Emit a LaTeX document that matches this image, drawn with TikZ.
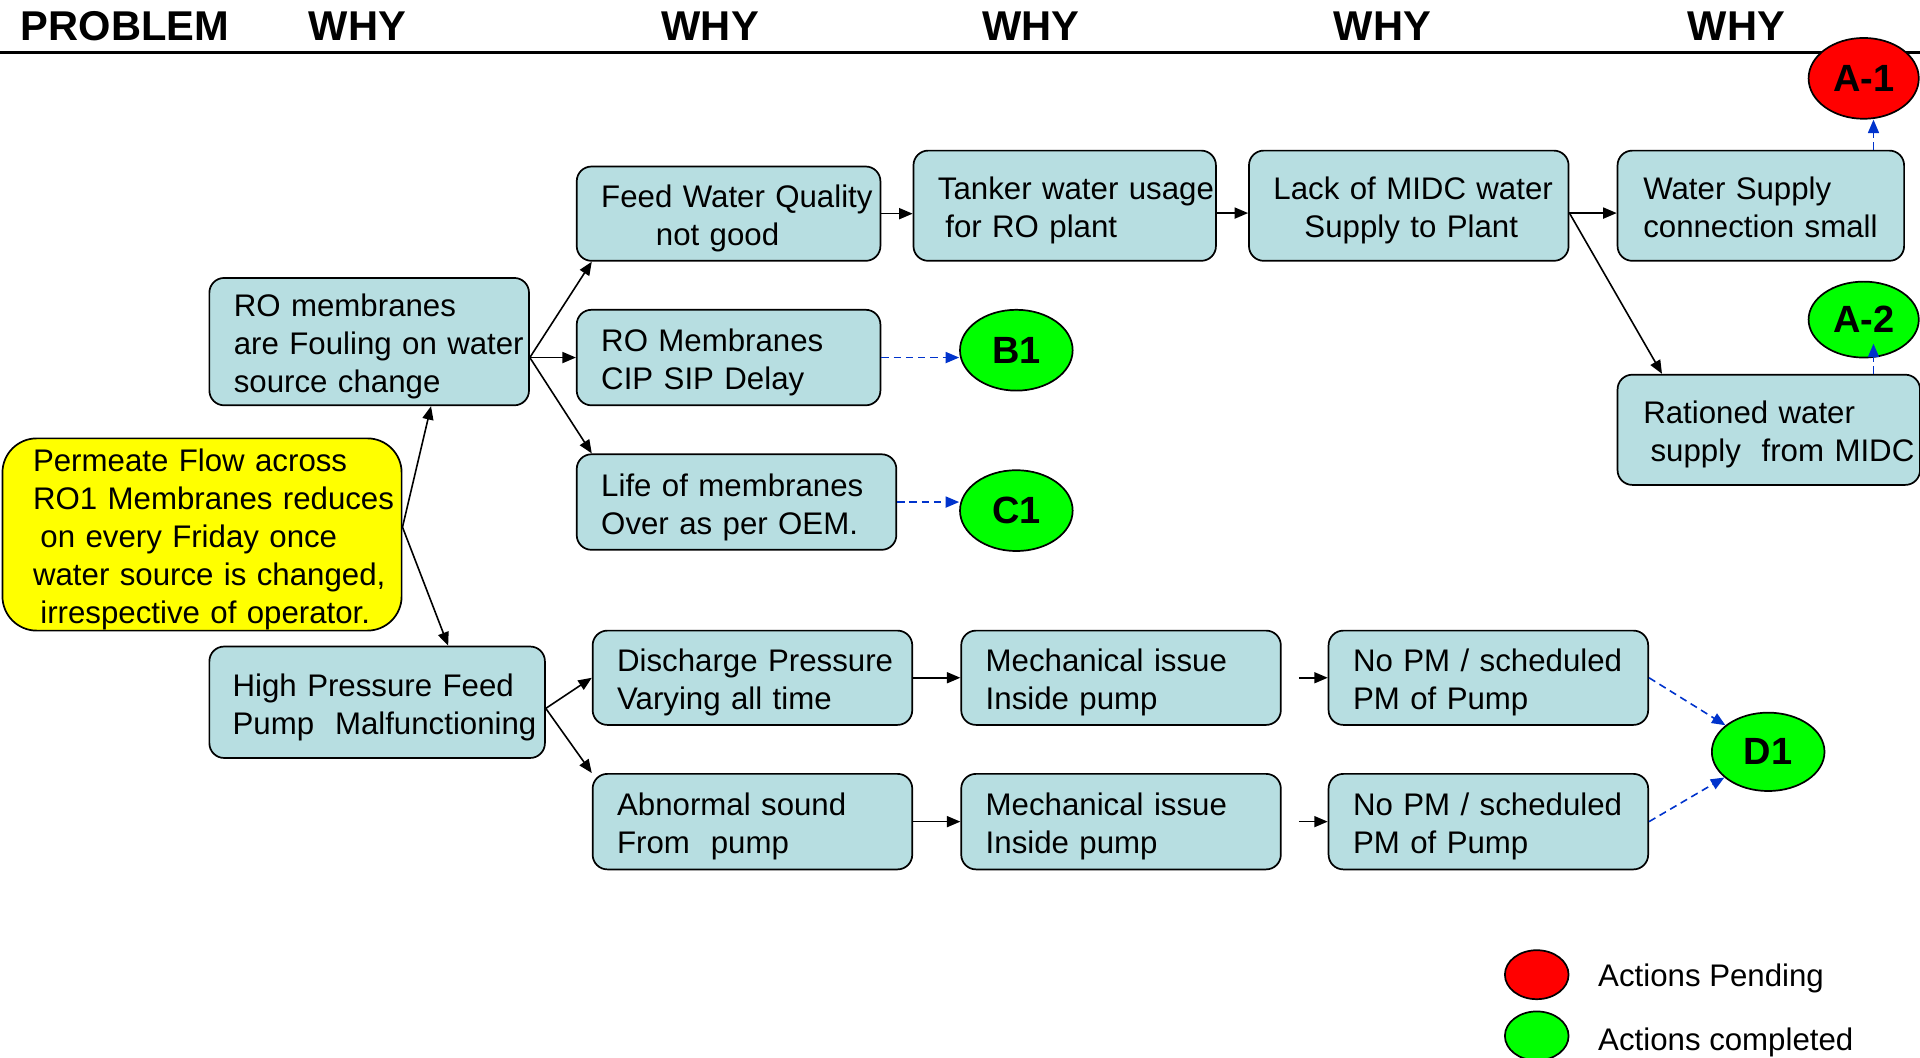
\documentclass[tikz,border=0pt]{standalone}
\usepackage{fontspec}
\setmainfont{Liberation Sans}
\usetikzlibrary{arrows.meta,shapes.geometric}
\definecolor{boxblue}{RGB}{183,222,225}
\definecolor{arrowblue}{RGB}{0,51,204}
\definecolor{okgreen}{RGB}{0,255,0}
\definecolor{pendred}{RGB}{255,0,0}
\definecolor{probyellow}{RGB}{255,255,0}
\newcommand\LX[1]{\mbox{#1}}
\begin{document}
\begin{tikzpicture}[x=1pt,y=-1pt,
  box/.style={draw, fill=boxblue, rounded corners=12pt, line width=1.4pt,
    inner xsep=20pt, inner ysep=0pt, align=left,
    font=\fontsize{25.5}{31}\selectfont,
    execute at begin node={\rule{0pt}{26.5pt}}},
  probbox/.style={box, fill=probyellow, rounded corners=28pt, inner xsep=25pt},
  act/.style={ellipse, draw, line width=1.4pt, inner sep=0pt,
    font=\bfseries\fontsize{31}{31}\selectfont},
  hdr/.style={font=\bfseries\fontsize{34}{34}\selectfont, inner sep=0pt},
  legtxt/.style={font=\fontsize{25.5}{31}\selectfont, anchor=west, inner sep=0pt},
  conn/.style={line width=1.3pt, -{Triangle[length=11pt,width=9pt]}},
  todo/.style={line width=1.3pt, arrowblue, dash pattern=on 6pt off 4pt,
    -{Triangle[length=11pt,width=9pt]}}
]
\useasboundingbox (0,0) rectangle (1568,864);

% header
\node[hdr] (h0) at (102,21) {PROBLEM};
\node[hdr] (h1) at (292,21) {WHY};
\node[hdr] (h2) at (580,21) {WHY};
\node[hdr] (h3) at (842,21) {WHY};
\node[hdr] (h4) at (1129,21) {WHY};
\node[hdr] (h5) at (1418,21) {WHY};
\draw[line width=2pt] (0,43) -- (1568,43);

% boxes
\node[probbox, text width=276pt, minimum height=157pt] (Y) at (165,436.5)
  {\LX{Permeate Flow across}\\\LX{RO1 Membranes reduces}\\\LX{\hspace*{6pt}on every Friday once}\\\LX{water source is changed,}\\\LX{\hspace*{6pt}irrespective of operator.}};
\node[box, text width=221pt, minimum height=104pt] (RO) at (301.5,279)
  {\LX{RO membranes}\\\LX{are Fouling on water}\\\LX{source change}};
\node[box, inner xsep=19pt, text width=236pt, minimum height=91pt] (HP) at (308,573.5)
  {\LX{High Pressure Feed}\\\LX{Pump\ \ Malfunctioning}};
\node[box, align=center, text width=208pt, minimum height=77pt] (FW) at (595,174.5)
  {\LX{Feed Water Quality}\\\LX{\hspace*{-18pt}not good}};
\node[box, text width=208pt, minimum height=78pt] (CIP) at (595,292)
  {\LX{RO Membranes}\\\LX{CIP SIP Delay}};
\node[box, text width=221pt, minimum height=78pt] (LM) at (601.5,410)
  {\LX{Life of membranes}\\\LX{Over as per OEM.}};
\node[box, text width=207pt, minimum height=90pt] (TK) at (869.5,168)
  {\LX{Tanker water usage}\\\LX{\hspace*{6pt}for RO plant}};
\node[box, align=center, text width=221pt, minimum height=90pt] (LK) at (1150.5,168)
  {\LX{Lack of MIDC water}\\\LX{\hspace*{4pt}Supply to Plant}};
\node[box, inner xsep=21pt, text width=192pt, minimum height=90pt] (WS) at (1438,168)
  {\LX{Water Supply}\\\LX{connection small\rule[-5.5pt]{0pt}{5.5pt}}};
\node[box, inner xsep=21pt, text width=205pt, minimum height=90pt] (RW) at (1444.5,351)
  {\LX{Rationed water}\\\LX{\hspace*{6pt}supply\ \ from MIDC}};
\node[box, text width=221pt, minimum height=77pt] (DP) at (614.5,553.5)
  {\LX{Discharge Pressure}\\\LX{Varying all time}};
\node[box, text width=221pt, minimum height=78pt] (AS) at (614.5,671)
  {\LX{Abnormal sound}\\\LX{From\ \ pump}};
\node[box, text width=221pt, minimum height=77pt] (M1) at (915.5,553.5)
  {\LX{Mechanical issue}\\\LX{Inside pump}};
\node[box, text width=221pt, minimum height=78pt] (M2) at (915.5,671)
  {\LX{Mechanical issue}\\\LX{Inside pump}};
\node[box, text width=221pt, minimum height=77pt] (N1) at (1215.5,553.5)
  {\LX{No PM / scheduled}\\\LX{PM of Pump}};
\node[box, text width=221pt, minimum height=78pt] (N2) at (1215.5,671)
  {\LX{No PM / scheduled}\\\LX{PM of Pump}};

% action ellipses
\node[act, fill=pendred, minimum width=90pt, minimum height=66pt] (A1) at (1522,64) {A-1};
\node[act, fill=okgreen, minimum width=90pt, minimum height=62pt] (A2) at (1522,261) {A-2};
\node[act, fill=okgreen, minimum width=92pt, minimum height=66pt] (B1) at (830,286) {B1};
\node[act, fill=okgreen, minimum width=92pt, minimum height=66pt] (C1) at (830,417) {C1};
\node[act, fill=okgreen, minimum width=92pt, minimum height=64pt] (D1) at (1444,614) {D1};

% connectors
\draw[conn] ([yshift=6pt]Y.east) -- ([xshift=50.5pt]RO.south);
\draw[conn] ([yshift=6pt]Y.east) -- ([xshift=58pt]HP.north);
\draw[conn] ([yshift=-13pt]RO.east) -- ([xshift=13pt]FW.south west);
\draw[conn] ([yshift=-13pt]RO.east) -- (CIP.west);
\draw[conn] ([yshift=-13pt]RO.east) -- ([xshift=13pt]LM.north west);
\draw[conn] (FW.east) -- (TK.west |- FW.east);
\draw[conn] ([yshift=-6pt]TK.east) -- ([yshift=-6pt]LK.west);
\draw[conn] ([yshift=-6pt]LK.east) -- ([yshift=-6pt]WS.west);
\draw[conn] ([yshift=-6pt]LK.east) -- ([xshift=37pt]RW.north west);
\draw[conn] ([yshift=-5pt]HP.east) -- (DP.west);
\draw[conn] ([yshift=-5pt]HP.east) -- (AS.north west);
\draw[conn] (DP.east) -- (M1.west);
\draw[conn] (AS.east) -- (M2.west);
\draw[conn, shorten <=14pt] (M1.east) -- (N1.west);
\draw[conn, shorten <=14pt] (M2.east) -- (N2.west);

\draw[todo] (CIP.east) -- (B1.west |- CIP.east);
\draw[todo] (LM.east) -- (C1.west |- LM.east);
\draw[todo] (N1.east) -- (D1);
\draw[todo] (N2.east) -- (D1);
\draw[todo] ([xshift=92pt]WS.north) -- ([xshift=8pt]A1.south);
\draw[todo] ([xshift=85.5pt]RW.north) -- ([xshift=8pt,yshift=12pt]A2.south);

% legend
\node[act, fill=pendred, minimum width=52pt, minimum height=40pt] (Lp) at (1255,796) {};
\node[act, fill=okgreen, minimum width=52pt, minimum height=40pt] (Lc) at (1255,846) {};
\node[legtxt] (Lpt) at (1305,799) {Actions Pending};
\node[legtxt] (Lct) at (1305,851) {Actions completed};
\end{tikzpicture}
\end{document}
